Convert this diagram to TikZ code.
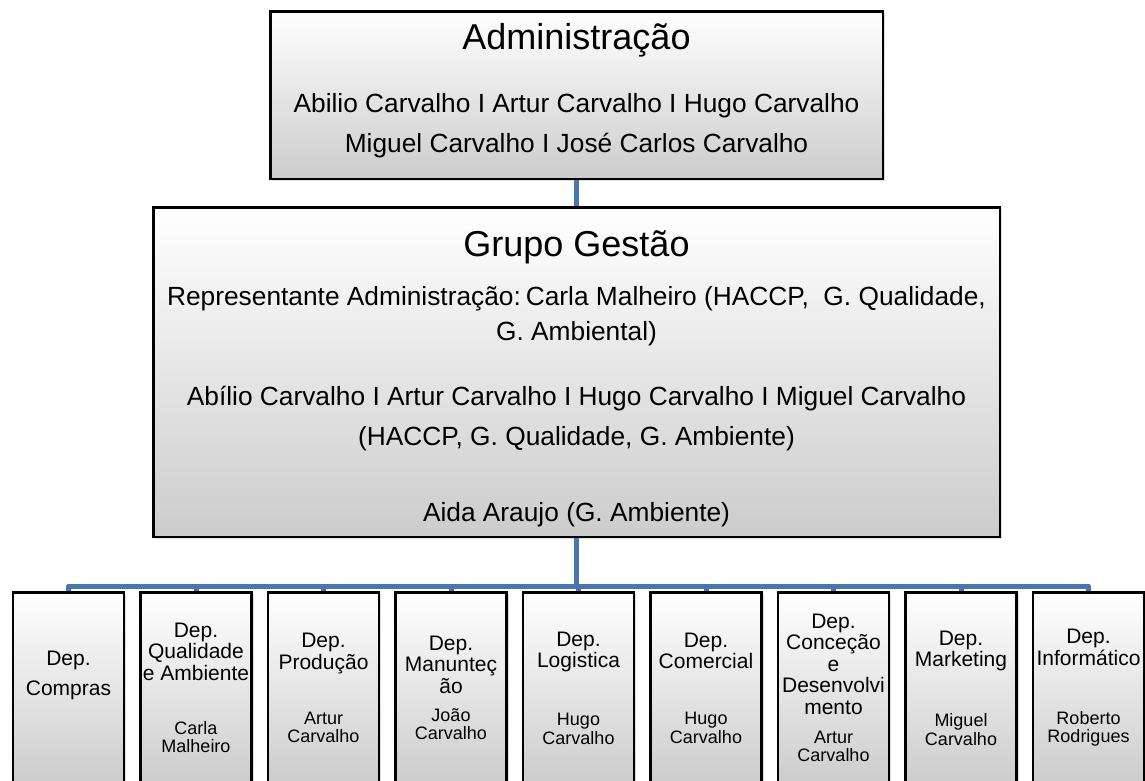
\documentclass[tikz,border=0pt]{standalone}
\usepackage{fontspec}
\setmainfont{Liberation Sans}
\usetikzlibrary{positioning, shadows, backgrounds}
\definecolor{linkblue}{RGB}{72,118,175}
\newcommand{\titlesize}{\fontsize{36}{40}\selectfont\spaceskip=.278em\relax}
\newcommand{\bodysize}{\fontsize{26.3}{40}\selectfont\spaceskip=.278em\relax}
\newcommand{\deptsize}{\fontsize{21}{21.5}\selectfont\spaceskip=.278em\relax}
\newcommand{\personsize}{\fontsize{18}{18.5}\selectfont\spaceskip=.278em\relax}
\tikzset{
    x=1pt, y=-1pt, % pixel grid, y runs downwards
    box/.style={draw=black, line width=2.5pt, top color=white, bottom color=black!20,
        inner sep=0pt, outer sep=0pt, align=center,
        drop shadow={shadow xshift=2pt, shadow yshift=-2pt, opacity=0.25}}, % shaded boxes
    dept/.style={box, text width=111pt, minimum height=191.5pt}, % department boxes
    link/.style={draw=linkblue, line width=5pt, line join=round}, % blue connectors
}

\begin{document}
\begin{tikzpicture}
    \useasboundingbox (0,0) rectangle (1145,780);

    \node[box, text width=612.5pt, minimum height=167.5pt] (adm) at (576.5,95) {%
        {\titlesize Administração\par}\vspace{23pt}%
        {\bodysize Abilio Carvalho I Artur Carvalho I Hugo Carvalho\\
         Miguel Carvalho I José Carlos Carvalho\par}\kern8pt};

    \node[box, text width=846.5pt, minimum height=329.5pt, below=28.5pt of adm] (grp) {%
        {\titlesize Grupo Gestão\par}\vspace{14pt}%
        {\fontsize{26.3}{35}\selectfont\spaceskip=.278em Representante Administração: Carla Malheiro (HACCP,\ \ G. Qualidade,\\
         G. Ambiental)\par}\vspace{25pt}%
        {\bodysize Abílio Carvalho I Artur Carvalho I Hugo Carvalho I Miguel Carvalho\\
         (HACCP, G. Qualidade, G. Ambiente)\par}\vspace{36pt}%
        {\bodysize Aida Araujo (G. Ambiente)\par}\kern-13pt};

    % departments
    \node[dept] (d1) at (68.5,688) {{\fontsize{21}{30.5}\selectfont\spaceskip=.278em Dep.\\ Compras\par}\kern25pt};
    \node[dept, right=16.5pt of d1] (d2) {{\deptsize Dep.\\ Qualidade\\ e Ambiente\par}\vspace{35.5pt}{\personsize Carla\\ Malheiro\par}};
    \node[dept, right=16.5pt of d2] (d3) {{\deptsize Dep.\\ Produção\par}\vspace{36.5pt}{\personsize Artur\\ Carvalho\par}};
    \node[dept, right=16.5pt of d3] (d4) {{\deptsize Dep.\\ Manunteç\\ ão\par}\vspace{9.5pt}{\personsize João\\ Carvalho\par}};
    \node[dept, right=16.5pt of d4] (d5) {{\deptsize Dep.\\ Logistica\par}\vspace{39.5pt}{\personsize Hugo\\ Carvalho\par}};
    \node[dept, right=16.5pt of d5] (d6) {{\deptsize Dep.\\ Comercial\par}\vspace{37.5pt}{\personsize Hugo\\ Carvalho\par}};
    \node[dept, right=16.5pt of d6] (d7) {{\deptsize Dep.\\ Conceção\\ e\\ Desenvolvi\\ mento\par}\vspace{10.5pt}{\personsize Artur\\ Carvalho\par}};
    \node[dept, right=16.5pt of d7] (d8) {{\deptsize Dep.\\ Marketing\par}\vspace{41.5pt}{\personsize Miguel\\ Carvalho\par}};
    \node[dept, right=16.5pt of d8] (d9) {{\deptsize Dep.\\ Informático\par}\vspace{40.5pt}{\personsize Roberto\\ Rodrigues\par}};

    \coordinate (bus) at (576.5,586);

    \begin{pgfonlayer}{background}
        \draw[link] (adm.south) -- (grp.north);
        \draw[link] (grp.south) -- (bus);
        \foreach \i in {1,...,9}
            \draw[link] (bus) -| (d\i.north);
    \end{pgfonlayer}
\end{tikzpicture}
\end{document}
